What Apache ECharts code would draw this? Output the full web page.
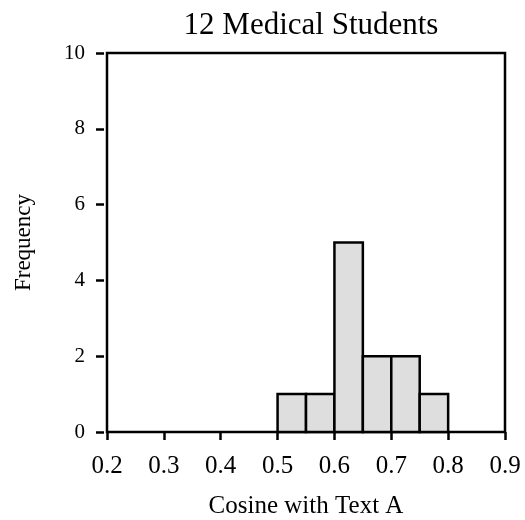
<!DOCTYPE html>
<html>
<head>
<meta charset="utf-8">
<script src="https://cdn.jsdelivr.net/npm/echarts@6/dist/echarts.min.js"></script>
<style>html,body{margin:0;padding:0;background:#fff;}#c{width:525px;height:520px;}</style>
</head>
<body>
<div id="c"></div>
<script>
const binStart = [0.50, 0.55, 0.60, 0.65, 0.70, 0.75];
const binEnd   = [0.55, 0.60, 0.65, 0.70, 0.75, 0.80];
const counts   = [1, 1, 5, 2, 2, 1];
const xTicks = [0.2, 0.3, 0.4, 0.5, 0.6, 0.7, 0.8, 0.9];
const yTicks = [0, 2, 4, 6, 8, 10];
const titleText = '12 Medical Students';
const xName = 'Cosine with Text A';
const yName = 'Frequency';

const font = 'Liberation Serif, Times New Roman, serif';
const chart = echarts.init(document.getElementById('c'), null, {renderer: 'canvas'});
const data = binStart.map((s, i) => [s, binEnd[i], counts[i]]);
chart.setOption({
  animation: false,
  backgroundColor: '#fff',
  title: {
    text: titleText, left: 306, top: 5, textAlign: 'center',
    textStyle: {fontFamily: font, fontSize: 31, fontWeight: 'normal', color: '#000'}
  },
  grid: {left: 107, right: 20, top: 53, bottom: 88, containLabel: false, outerBoundsMode: 'none',
    show: true, borderColor: '#000', borderWidth: 2.5, backgroundColor: 'transparent'},
  xAxis: {
    type: 'value', min: 0.2, max: 0.9, interval: 0.1, offset: 3,
    name: xName, nameLocation: 'middle', nameGap: 59,
    nameTextStyle: {fontFamily: font, fontSize: 25, color: '#000'},
    axisLine: {show: false},
    axisTick: {show: true, length: 8, lineStyle: {color: '#000', width: 2.5}},
    axisLabel: {fontFamily: font, fontSize: 25, color: '#000', margin: 19,
      formatter: v => { const t = xTicks.find(x => Math.abs(x - v) < 1e-9); return t === undefined ? '' : t.toFixed(1); }},
    splitLine: {show: false}
  },
  yAxis: {
    type: 'value', min: 0, max: 10, interval: 2, offset: 3,
    name: yName, nameLocation: 'middle', nameGap: 69,
    nameTextStyle: {fontFamily: font, fontSize: 23, color: '#000'},
    axisLine: {show: false},
    axisTick: {show: true, length: 8, lineStyle: {color: '#000', width: 2.5}},
    axisLabel: {fontFamily: font, fontSize: 21, color: '#000', margin: 19,
      formatter: v => { const t = yTicks.find(y => Math.abs(y - v) < 1e-9); return t === undefined ? '' : String(t); }},
    splitLine: {show: false}
  },
  series: [{
    type: 'custom',
    data: data,
    encode: {x: [0, 1], y: 2},
    renderItem: function (params, api) {
      const p0 = api.coord([api.value(0), 0]);
      const p1 = api.coord([api.value(1), api.value(2)]);
      return {
        type: 'rect',
        shape: {x: p0[0], y: p1[1], width: p1[0] - p0[0], height: p0[1] - p1[1]},
        style: {fill: '#dedede', stroke: '#000', lineWidth: 2.5}
      };
    }
  }]
});
</script>
</body>
</html>
